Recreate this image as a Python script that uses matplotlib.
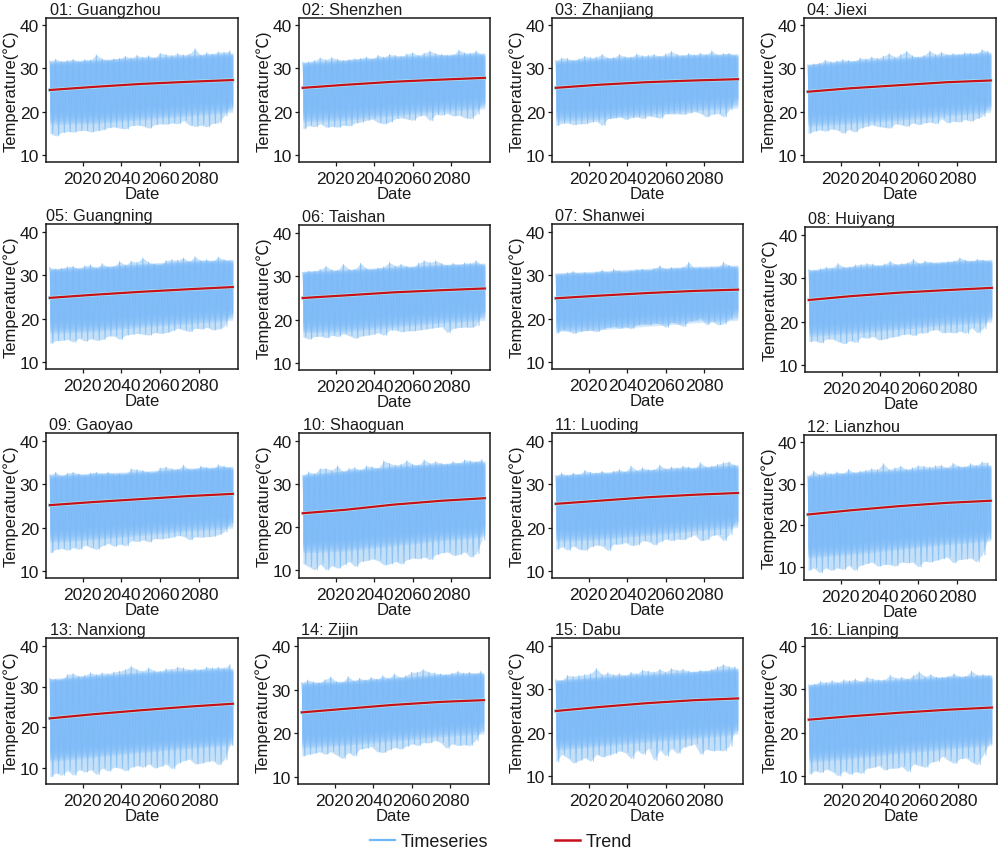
import matplotlib
matplotlib.use("Agg")
import matplotlib.pyplot as plt
import matplotlib.patheffects as pe
from matplotlib.lines import Line2D

plt.rcParams['font.family'] = ['Liberation Sans', 'Noto Sans CJK SC', 'DejaVu Sans']

STATIONS = ["01: Guangzhou", "02: Shenzhen", "03: Zhanjiang", "04: Jiexi",
            "05: Guangning", "06: Taishan", "07: Shanwei", "08: Huiyang",
            "09: Gaoyao", "10: Shaoguan", "11: Luoding", "12: Lianzhou",
            "13: Nanxiong", "14: Zijin", "15: Dabu", "16: Lianping"]
YEARS = list(range(2003, 2098, 3))
TREND_YEARS = [2003, 2025, 2050, 2075, 2097.5]

HI_01 = [31.7,32.1,31.6,31.8,32.1,31.5,32.0,31.9,33.1,32.2,31.8,32.2,32.3,32.8,32.4,33.0,32.6,32.9,32.4,33.5,33.2,33.0,33.4,33.1,33.3,34.5,33.0,33.6,33.3,33.8,33.7,34.0]
LO_01 = [15.0,14.4,15.2,15.4,15.3,15.6,15.7,15.3,15.6,15.8,16.3,16.5,16.2,16.0,16.8,16.9,16.7,16.2,17.0,17.2,17.1,17.4,17.2,18.0,16.9,16.6,16.9,16.5,17.3,17.4,19.0,21.3]
HI_02 = [31.4,31.5,31.8,32.4,32.0,32.5,32.1,31.8,32.0,32.2,32.3,32.6,32.1,33.0,32.6,33.2,33.0,32.8,33.3,33.6,33.0,33.5,34.0,33.4,33.2,33.0,33.1,34.2,33.6,33.5,34.0,33.0]
LO_02 = [16.0,16.8,16.5,17.2,16.4,16.6,16.4,16.9,16.7,17.4,17.6,18.0,18.3,17.5,17.2,17.6,18.4,18.6,18.3,18.0,19.0,19.2,17.9,19.4,19.2,19.6,19.0,19.2,18.6,18.4,19.4,22.0]
HI_03 = [31.8,32.4,32.3,31.8,32.2,32.8,32.5,32.6,33.2,32.4,32.5,33.2,32.7,32.6,33.3,32.9,33.0,33.2,32.8,33.3,33.9,33.2,33.0,33.4,33.1,33.5,33.2,34.0,33.1,33.4,33.5,32.9]
LO_03 = [16.8,17.3,17.4,17.0,17.2,17.2,17.6,17.8,16.8,18.4,18.6,18.9,18.2,18.6,18.8,18.4,19.0,18.8,18.5,19.5,19.5,19.5,19.4,19.7,20.0,19.6,18.8,19.4,19.6,18.8,20.4,23.0]
HI_04 = [30.8,31.0,31.2,31.9,31.5,31.7,32.0,31.8,31.6,32.4,32.2,32.6,32.3,32.8,33.4,32.6,33.2,33.9,32.9,32.6,33.0,34.0,33.2,33.7,33.2,33.4,33.2,33.6,33.5,33.4,34.3,33.9]
LO_04 = [15.0,15.5,15.8,15.5,16.0,15.8,15.0,15.9,15.3,16.2,16.6,17.0,16.6,16.4,16.2,17.2,17.0,16.6,17.4,17.0,17.4,17.6,17.2,18.4,17.4,17.8,17.6,18.2,17.8,18.4,18.9,21.4]
HI_05 = [31.8,31.4,31.6,32.0,32.1,31.4,32.2,32.4,31.6,32.7,31.9,32.0,33.2,32.4,33.3,33.0,34.0,33.0,32.6,32.3,33.4,33.6,33.5,34.0,33.2,34.3,33.4,33.6,33.2,34.2,33.6,33.3]
LO_05 = [14.3,14.9,15.0,15.2,14.6,15.5,14.8,15.4,15.0,15.2,16.0,16.0,15.2,16.2,16.4,16.6,16.4,16.2,16.8,16.6,16.8,17.2,17.8,17.4,17.0,17.8,17.6,18.0,17.4,17.6,18.2,21.2]
HI_06 = [30.9,31.2,31.2,31.6,32.3,31.5,31.4,32.8,31.6,31.6,33.0,31.8,31.5,31.9,32.2,33.2,32.4,32.8,32.3,32.0,33.0,33.6,33.2,33.6,33.0,32.5,33.0,32.6,33.1,33.0,33.6,32.6]
LO_06 = [16.0,15.5,16.1,16.2,15.8,16.4,16.1,16.8,16.3,15.7,16.2,16.4,16.6,17.0,16.4,17.6,17.6,17.2,17.4,17.4,17.6,17.8,18.0,18.2,18.4,17.0,18.0,18.2,18.3,18.2,18.6,21.8]
HI_07 = [30.3,30.2,30.6,30.9,30.4,30.6,30.3,30.8,31.2,30.6,31.4,31.0,30.6,31.0,31.3,31.4,31.0,31.6,32.2,31.4,31.8,31.6,31.9,33.0,31.6,31.8,31.6,31.9,31.8,33.0,32.3,31.8]
LO_07 = [16.6,17.4,17.2,16.6,17.0,17.2,17.3,17.0,17.6,18.0,18.2,17.8,18.1,17.7,18.6,18.8,18.6,19.0,18.8,18.0,19.2,18.8,18.2,19.4,19.6,20.2,18.6,19.4,18.6,18.8,19.8,22.2]
HI_08 = [32.0,31.8,32.2,32.6,32.4,33.4,32.6,32.6,33.1,33.2,33.4,33.3,32.9,33.3,33.9,33.2,33.4,33.6,34.4,33.4,34.0,33.7,33.4,33.6,33.8,34.0,34.7,34.2,33.9,34.4,34.2,33.9]
LO_08 = [15.4,15.6,15.1,16.0,16.0,15.4,14.9,15.6,15.2,16.4,16.2,16.6,15.8,16.0,16.4,16.6,17.0,17.2,16.8,17.4,17.4,18.0,18.2,17.4,17.6,17.4,17.8,17.3,18.6,17.4,18.4,21.0]
HI_09 = [32.2,32.8,31.8,32.6,32.8,32.4,32.0,32.6,32.8,32.4,32.8,32.3,32.4,32.2,33.6,33.4,33.2,32.8,32.6,33.8,34.0,33.6,33.5,34.4,33.4,33.4,34.2,33.9,33.6,34.5,34.2,33.8]
LO_09 = [14.2,15.0,15.2,14.8,15.4,15.0,16.0,15.4,15.0,15.8,16.4,15.7,16.2,15.8,17.0,16.8,17.2,16.7,17.5,17.4,17.6,17.8,18.2,18.0,17.2,17.9,17.8,17.9,18.0,18.4,19.0,21.2]
HI_10 = [32.0,32.8,32.4,33.6,33.6,33.2,34.2,32.8,33.6,33.8,33.2,34.2,34.0,33.6,35.4,34.8,34.4,34.6,35.4,34.6,34.4,35.6,34.8,35.2,34.8,34.6,35.2,34.8,35.6,35.4,35.2,35.7]
LO_10 = [11.5,10.8,10.0,11.4,10.0,11.0,10.4,11.2,12.0,10.8,12.0,12.2,12.6,12.2,11.2,11.4,12.0,11.4,12.4,12.8,12.6,13.0,12.4,13.6,14.0,14.2,13.4,13.6,14.2,13.0,13.8,17.0]
HI_11 = [32.0,32.6,32.0,32.6,32.2,33.2,32.8,32.6,33.0,32.4,33.0,33.4,32.8,34.2,33.2,33.8,33.4,33.4,34.4,33.6,34.0,33.8,34.2,34.0,33.6,35.0,34.0,34.2,34.6,35.0,35.2,34.4]
LO_11 = [15.0,15.6,14.8,15.8,15.0,14.8,15.6,16.0,15.8,14.7,16.2,16.2,16.6,15.9,16.0,17.0,16.8,16.0,16.8,17.4,17.0,17.4,17.2,17.8,18.4,17.0,17.2,18.2,18.4,17.0,18.4,21.4]
HI_12 = [31.8,33.0,32.2,32.8,32.4,32.8,32.4,33.4,32.6,33.0,33.2,33.6,33.4,34.8,33.4,33.8,34.2,33.4,33.8,34.3,34.2,34.0,34.3,34.4,33.8,34.9,34.2,34.0,34.8,34.4,35.2,35.0]
LO_12 = [9.2,9.8,8.6,9.8,9.2,9.8,9.4,10.4,9.2,10.4,10.8,11.2,10.2,10.6,10.6,10.2,11.2,11.0,11.2,10.0,11.4,11.2,11.6,12.0,12.4,11.0,11.8,11.9,12.2,11.2,12.9,16.8]
HI_13 = [32.0,31.8,31.6,33.0,33.2,32.6,32.8,33.4,33.0,33.4,33.2,33.6,33.8,34.2,35.0,34.2,33.8,34.6,33.9,33.8,34.4,34.3,34.8,34.6,34.2,34.4,34.2,34.8,34.6,34.8,34.6,35.4]
LO_13 = [7.8,8.8,8.2,9.4,8.2,9.6,9.0,9.6,8.4,10.0,9.2,10.2,10.0,9.3,10.2,10.6,10.2,11.0,10.0,10.4,11.0,9.8,11.2,11.8,12.2,11.0,11.2,11.6,11.8,10.8,12.0,15.6]
HI_14 = [31.6,32.2,31.8,31.6,32.3,32.9,31.8,31.6,33.0,32.0,32.6,32.2,32.8,32.4,33.2,32.6,33.6,32.8,33.2,34.0,34.0,34.6,34.0,33.8,33.6,33.4,33.8,34.2,33.8,34.0,33.6,34.2]
LO_14 = [14.8,15.2,15.4,15.8,15.2,15.8,15.0,14.2,15.6,14.8,16.4,16.6,17.0,15.8,15.6,16.2,16.8,16.4,17.0,17.6,17.2,17.9,17.8,18.4,17.9,16.6,17.6,17.2,17.4,17.2,18.3,20.6]
HI_15 = [32.2,32.0,33.2,33.0,33.2,33.4,33.6,34.8,33.4,33.8,33.4,33.6,33.2,33.9,33.6,34.4,34.2,34.0,34.6,34.0,34.8,34.4,34.6,34.2,34.0,34.4,34.2,34.6,35.2,35.7,35.2,35.2]
LO_15 = [13.2,15.0,14.2,13.0,13.6,14.2,13.4,15.0,14.4,14.8,15.2,15.8,15.4,14.0,16.0,15.0,16.4,13.6,16.0,14.6,16.4,15.2,16.6,17.0,17.4,15.0,16.2,15.8,16.0,15.8,16.9,20.6]
HI_16 = [31.0,31.2,31.8,31.6,32.0,31.6,32.2,32.0,32.4,31.8,32.8,32.4,32.2,32.2,33.2,32.6,32.8,32.4,33.2,34.0,33.0,33.4,32.8,32.8,33.0,33.6,32.9,33.0,34.2,33.3,33.4,33.2]
LO_16 = [10.4,11.2,10.8,11.6,11.0,10.0,11.2,10.4,11.0,10.6,11.8,12.0,12.4,11.4,11.8,11.8,12.2,11.0,12.8,12.4,12.0,13.2,13.4,14.6,13.6,12.9,14.0,14.2,13.2,12.6,14.8,17.4]

TREND_01 = [25.0, 25.7, 26.4, 26.9, 27.3]
TREND_02 = [25.5, 26.2, 26.9, 27.4, 27.8]
TREND_03 = [25.5, 26.2, 26.8, 27.2, 27.5]
TREND_04 = [24.6, 25.4, 26.1, 26.8, 27.2]
TREND_05 = [24.8, 25.5, 26.2, 26.8, 27.3]
TREND_06 = [25.0, 25.6, 26.3, 26.8, 27.2]
TREND_07 = [24.7, 25.3, 25.9, 26.4, 26.7]
TREND_08 = [25.0, 25.9, 26.7, 27.3, 27.8]
TREND_09 = [25.2, 25.9, 26.6, 27.3, 27.8]
TREND_10 = [23.2, 24.0, 25.2, 26.1, 26.7]
TREND_11 = [25.5, 26.2, 27.0, 27.6, 28.0]
TREND_12 = [22.6, 23.6, 24.6, 25.4, 25.9]
TREND_13 = [22.2, 23.2, 24.2, 25.1, 25.8]
TREND_14 = [24.8, 25.6, 26.5, 27.2, 27.6]
TREND_15 = [25.0, 25.9, 26.8, 27.5, 27.9]
TREND_16 = [23.0, 23.8, 24.6, 25.3, 25.8]

CORE_TOP_01 = [30.4, 30.8, 31.3, 31.9, 32.4]
CORE_BOT_01 = [20.5, 20.6, 21.5, 22.4, 23.2]
CORE_TOP_02 = [30.2, 30.8, 31.6, 32.0, 32.4]
CORE_BOT_02 = [21.0, 21.4, 22.4, 23.4, 24.0]
CORE_TOP_03 = [30.6, 31.2, 31.6, 32.0, 32.2]
CORE_BOT_03 = [21.2, 21.6, 22.6, 23.6, 24.2]
CORE_TOP_04 = [29.8, 30.6, 31.3, 32.0, 32.6]
CORE_BOT_04 = [20.0, 20.6, 21.4, 22.4, 23.2]
CORE_TOP_05 = [30.4, 30.8, 31.5, 32.2, 32.5]
CORE_BOT_05 = [20.0, 20.4, 21.4, 22.2, 23.0]
CORE_TOP_06 = [30.0, 30.4, 31.0, 31.6, 31.9]
CORE_BOT_06 = [20.4, 20.6, 21.6, 22.6, 23.2]
CORE_TOP_07 = [29.4, 29.8, 30.4, 30.9, 31.2]
CORE_BOT_07 = [20.4, 20.8, 21.6, 22.4, 23.0]
CORE_TOP_08 = [30.8, 31.6, 32.2, 32.8, 33.2]
CORE_BOT_08 = [20.0, 20.6, 21.6, 22.6, 23.2]
CORE_TOP_09 = [31.0, 31.4, 31.8, 32.6, 33.0]
CORE_BOT_09 = [20.0, 20.6, 21.6, 22.6, 23.2]
CORE_TOP_10 = [31.0, 32.0, 33.0, 33.6, 34.2]
CORE_BOT_10 = [17.4, 17.8, 19.0, 20.2, 21.0]
CORE_TOP_11 = [31.0, 31.6, 32.2, 32.8, 33.4]
CORE_BOT_11 = [20.2, 20.6, 21.6, 22.6, 23.4]
CORE_TOP_12 = [30.8, 31.6, 32.2, 32.8, 33.4]
CORE_BOT_12 = [15.6, 16.4, 17.6, 18.8, 19.6]
CORE_TOP_13 = [30.8, 31.6, 32.4, 33.0, 33.4]
CORE_BOT_13 = [15.0, 16.0, 17.2, 18.2, 19.0]
CORE_TOP_14 = [30.4, 30.8, 31.6, 32.4, 32.8]
CORE_BOT_14 = [20.0, 20.6, 21.6, 22.6, 23.2]
CORE_TOP_15 = [31.0, 31.8, 32.4, 33.0, 33.8]
CORE_BOT_15 = [19.4, 20.2, 21.2, 22.0, 23.0]
CORE_TOP_16 = [30.0, 30.6, 31.2, 31.8, 32.2]
CORE_BOT_16 = [16.6, 17.4, 18.6, 19.6, 20.4]

HIGHS = [HI_01, HI_02, HI_03, HI_04, HI_05, HI_06, HI_07, HI_08, HI_09, HI_10, HI_11, HI_12, HI_13, HI_14, HI_15, HI_16]
LOWS = [LO_01, LO_02, LO_03, LO_04, LO_05, LO_06, LO_07, LO_08, LO_09, LO_10, LO_11, LO_12, LO_13, LO_14, LO_15, LO_16]
TRENDS = [TREND_01, TREND_02, TREND_03, TREND_04, TREND_05, TREND_06, TREND_07, TREND_08, TREND_09, TREND_10, TREND_11, TREND_12, TREND_13, TREND_14, TREND_15, TREND_16]
CORE_TOPS = [CORE_TOP_01, CORE_TOP_02, CORE_TOP_03, CORE_TOP_04, CORE_TOP_05, CORE_TOP_06, CORE_TOP_07, CORE_TOP_08, CORE_TOP_09, CORE_TOP_10, CORE_TOP_11, CORE_TOP_12, CORE_TOP_13, CORE_TOP_14, CORE_TOP_15, CORE_TOP_16]
CORE_BOTS = [CORE_BOT_01, CORE_BOT_02, CORE_BOT_03, CORE_BOT_04, CORE_BOT_05, CORE_BOT_06, CORE_BOT_07, CORE_BOT_08, CORE_BOT_09, CORE_BOT_10, CORE_BOT_11, CORE_BOT_12, CORE_BOT_13, CORE_BOT_14, CORE_BOT_15, CORE_BOT_16]

# layout, in reference pixels: left, right, top, bottom, y of tick 40, y of tick 10, title x
W, H = 1000, 854
LAYOUT = [
    (46, 238, 19, 163, 26, 156, 50), (299, 490, 19, 163, 26, 156, 302), (552, 743, 19, 163, 26, 156, 555), (804, 996, 19, 163, 26, 156, 807),
    (46, 238, 225, 370, 233, 363, 46), (299, 490, 226, 371, 234, 364, 302), (552, 743, 225, 370, 233, 363, 555), (805, 997, 228, 373, 236, 366, 808),
    (46, 238, 434, 579, 442, 572, 49), (299, 490, 434, 579, 442, 571, 303), (552, 743, 434, 579, 442, 572, 555), (804, 996, 436, 581, 443, 568, 807),
    (46, 238, 639, 785, 647, 769, 50), (298, 489, 639, 785, 647, 778, 301), (552, 743, 639, 785, 647, 777, 555), (805, 997, 639, 785, 647, 777, 810),
]

LINE_BLUE = '#7CBAF4'
CORE_BLUE = '#80BDFA'
PALE_BLUE = '#C4E0F9'
RED = '#C8101A'
INK = '#1a1a1a'
BLEND_STEPS = 8

fig = plt.figure(figsize=(W / 100, H / 100), dpi=100)
for i, (L, R, T, B, y40, y10, tx) in enumerate(LAYOUT):
    ax = fig.add_axes([L / W, 1 - B / H, (R - L) / W, (B - T) / H])
    hi, lo = HIGHS[i], LOWS[i]
    lx = [y + 1.5 for y in YEARS]
    zx, zy = [], []
    for a, b, c, d in zip(YEARS, hi, lx, lo):
        zx += [a, c]
        zy += [b, d]
    ax.fill_between(YEARS, lo, hi, color=PALE_BLUE, lw=0, zorder=1)
    # soft transition from the pale outer range into the solid core
    for k in range(BLEND_STEPS):
        g = k / BLEND_STEPS
        ut = [a + 1.2 * (1 - g) for a in CORE_TOPS[i]]
        ub = [a - 3.4 * (1 - g) for a in CORE_BOTS[i]]
        ax.fill_between(TREND_YEARS, ub, ut, color=CORE_BLUE, lw=0, alpha=0.3, zorder=2)
    ax.plot(zx, zy, color=LINE_BLUE, lw=0.7, alpha=0.75, zorder=3)
    ax.plot(TREND_YEARS, TRENDS[i], color=RED, lw=1.6, zorder=4,
            path_effects=[pe.withStroke(linewidth=2.6, foreground='#A8E6F5')])
    scale = (y10 - y40) / 30
    ax.set_ylim(10 - (B - y10) / scale, 40 + (y40 - T) / scale)
    ax.set_xlim(2001, 2100.2)
    ax.set_xticks([2020, 2040, 2060, 2080])
    ax.set_yticks([10, 20, 30, 40])
    ax.tick_params(labelsize=12.5, length=3, width=0.9, color=INK, labelcolor=INK)
    ax.tick_params(axis='x', pad=3.5)
    ax.tick_params(axis='y', pad=2)
    for s in ax.spines.values():
        s.set_linewidth(1.1)
        s.set_color(INK)
    ax.set_xlabel('Date', fontsize=12, labelpad=0, color=INK)
    ax.set_ylabel('Temperature(℃)', fontsize=12, labelpad=1, color=INK)
    ax.set_title(STATIONS[i], fontsize=11.7, loc='left', x=(tx - L) / (R - L), pad=3, color=INK)

handles = [Line2D([], [], color='#6FB7F8', lw=1.6), Line2D([], [], color=RED, lw=1.8)]
fig.legend(handles, ['Timeseries', 'Trend'], ncols=2, frameon=False, fontsize=13,
           loc='center', bbox_to_anchor=(501 / W, 1 - 843 / H), handlelength=1.4,
           handletextpad=0.3, columnspacing=3.7, borderpad=0, borderaxespad=0, labelcolor=INK)

fig.savefig('out.png', dpi=100)
